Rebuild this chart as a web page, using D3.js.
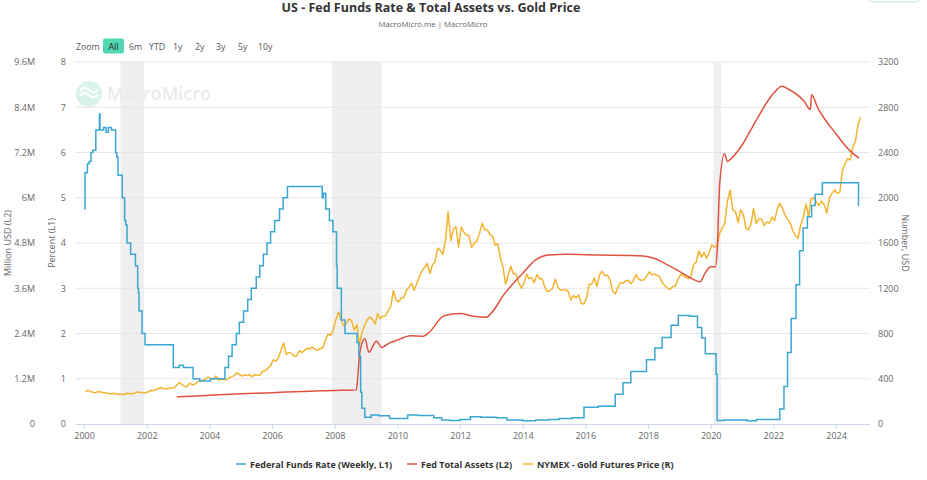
<!DOCTYPE html>
<html><head><meta charset="utf-8">
<script src="https://cdn.jsdelivr.net/npm/d3@7"></script>
<style>
body{margin:0;background:#fff;}
svg{display:block;font-family:"Open Sans",sans-serif;}
</style></head>
<body><svg id="c" width="927" height="480"></svg>
<script>
// ---------------- DATA ----------------
const title = "US - Fed Funds Rate & Total Assets vs. Gold Price";
const subtitle = "MacroMicro.me | MacroMicro";
const zoomButtons = ["All","6m","YTD","1y","2y","3y","5y","10y"];
const seriesNames = ["Federal Funds Rate (Weekly, L1)","Fed Total Assets (L2)","NYMEX - Gold Futures Price (R)"];
const xTicks = [2000,2002,2004,2006,2008,2010,2012,2014,2016,2018,2020,2022,2024];
const leftTicks = [0,1,2,3,4,5,6,7,8];
const assetTicks = ["0","1.2M","2.4M","3.6M","4.8M","6M","7.2M","8.4M","9.6M"];
const goldTicks = [0,400,800,1200,1600,2000,2400,2800,3200];
const recessions = [["2001-03-01","2001-11-30"],["2007-12-01","2009-06-30"],["2020-02-01","2020-04-30"]];

// Federal funds rate (weekly) – change points [date, %]
const fedFunds = [
["2000-01-05",4.75],["2000-01-12",5.55],["2000-02-09",5.75],["2000-03-01",5.8],["2000-03-22",6.0],["2000-04-12",6.05],["2000-05-17",6.5],
["2000-06-28",6.85],["2000-07-05",6.5],["2000-08-16",6.55],["2000-09-13",6.45],["2000-10-11",6.55],["2000-11-15",6.5],
["2001-01-03",6.0],["2001-01-17",5.9],["2001-01-31",5.5],["2001-03-21",5.0],["2001-04-18",4.5],["2001-05-02",4.4],["2001-05-16",4.0],
["2001-06-27",3.75],["2001-08-22",3.5],["2001-09-17",3.0],["2001-09-26",2.9],["2001-10-03",2.5],["2001-11-07",2.0],["2001-12-12",1.75],
["2002-11-06",1.25],["2003-01-15",1.3],["2003-03-05",1.25],["2003-06-25",1.0],["2003-09-10",0.95],["2004-01-14",1.0],
["2004-06-30",1.25],["2004-08-11",1.5],["2004-09-22",1.75],["2004-11-10",2.0],["2004-12-15",2.25],["2005-02-02",2.5],["2005-03-23",2.75],
["2005-05-04",3.0],["2005-06-30",3.25],["2005-08-10",3.5],["2005-09-21",3.75],["2005-11-02",4.0],["2005-12-14",4.25],["2006-01-31",4.5],
["2006-03-28",4.75],["2006-05-10",5.0],["2006-06-29",5.25],["2007-08-08",5.0],["2007-08-22",5.1],["2007-09-18",4.75],["2007-10-31",4.5],
["2007-12-11",4.25],["2008-01-22",3.5],["2008-01-30",3.0],["2008-03-18",2.3],["2008-04-30",2.0],["2008-09-17",1.8],["2008-10-08",1.5],
["2008-10-29",0.7],["2008-11-12",0.35],["2008-12-17",0.15],["2009-03-01",0.2],["2009-06-01",0.18],["2009-10-01",0.12],
["2010-01-01",0.12],["2010-05-01",0.2],["2010-09-01",0.19],["2011-03-01",0.14],["2011-06-01",0.09],["2011-09-01",0.08],
["2012-01-01",0.1],["2012-05-01",0.16],["2012-09-01",0.15],["2013-03-01",0.14],["2013-07-01",0.09],["2014-01-01",0.07],
["2014-06-01",0.09],["2014-11-01",0.1],["2015-03-01",0.12],["2015-08-01",0.14],["2015-12-16",0.37],["2016-06-01",0.39],
["2016-12-14",0.66],["2017-03-15",0.91],["2017-06-14",1.16],["2017-12-13",1.42],["2018-03-21",1.68],["2018-06-13",1.91],
["2018-09-26",2.18],["2018-12-19",2.4],["2019-05-01",2.38],["2019-07-31",2.13],["2019-09-18",1.9],["2019-10-30",1.55],
["2020-03-04",1.1],["2020-03-16",0.08],["2020-06-01",0.09],["2021-03-01",0.07],["2021-06-17",0.1],["2022-03-16",0.33],
["2022-05-04",0.83],["2022-06-15",1.58],["2022-07-27",2.33],["2022-09-21",3.08],["2022-11-02",3.83],["2022-12-14",4.33],
["2023-02-01",4.58],["2023-03-22",4.83],["2023-05-03",5.08],["2023-07-26",5.33],["2024-09-19",4.83],["2024-09-25",4.83]
];

// Fed total assets [date, million USD]
const fedAssets = [
["2002-12-18",720000],["2003-06-01",735000],["2004-01-01",760000],["2005-01-01",800000],["2006-01-01",830000],["2007-01-01",865000],
["2007-08-01",880000],["2008-01-01",890000],["2008-06-01",895000],["2008-09-10",905000],["2008-09-24",1200000],["2008-10-15",1800000],
["2008-11-05",2070000],["2008-12-17",2260000],["2009-02-04",1900000],["2009-03-18",2050000],["2009-05-01",2200000],["2009-07-01",2030000],
["2009-10-01",2150000],["2010-01-06",2230000],["2010-06-01",2340000],["2010-11-01",2330000],["2011-01-01",2420000],["2011-06-29",2870000],
["2012-01-01",2930000],["2012-06-01",2860000],["2012-11-01",2830000],["2013-01-02",2950000],["2013-06-01",3450000],["2014-01-01",4000000],
["2014-06-01",4350000],["2014-10-29",4480000],["2015-06-01",4500000],["2016-06-01",4480000],["2017-06-01",4470000],["2017-10-01",4460000],
["2018-03-01",4400000],["2018-09-01",4200000],["2019-01-01",4050000],["2019-06-01",3850000],["2019-09-01",3770000],["2019-10-15",3950000],
["2020-01-01",4170000],["2020-02-26",4170000],["2020-03-18",4670000],["2020-04-15",6370000],["2020-06-10",7170000],["2020-07-15",6960000],
["2020-09-01",7050000],["2021-01-01",7400000],["2021-06-01",8000000],["2021-12-29",8760000],["2022-04-13",8960000],["2022-06-01",8910000],
["2022-12-28",8550000],["2023-03-08",8340000],["2023-03-22",8730000],["2023-06-01",8390000],["2023-12-27",7710000],["2024-06-01",7270000],
["2024-09-25",7050000]
];

// NYMEX gold futures, monthly from Jan 2000 (USD)
const goldStart = "2000-01-15";
const gold = [
284,300,286,280,275,288,282,277,274,270,266,272,
265,262,263,261,272,270,268,273,283,280,275,277,
282,296,295,302,314,321,314,310,319,317,319,342,
367,348,335,328,361,347,351,372,384,385,398,415,
400,397,424,390,394,393,391,408,416,428,453,438,
423,435,428,435,418,437,429,433,469,470,495,518,
568,556,583,654,716,614,633,624,599,604,646,632,
651,670,663,681,660,651,668,674,743,795,784,834,
925,990,920,866,886,930,915,830,880,700,815,870,
925,945,925,885,975,930,955,955,1000,1040,1180,1095,
1080,1115,1115,1180,1210,1245,1180,1245,1305,1355,1385,1420,
1330,1410,1430,1555,1535,1500,1625,1877,1620,1720,1745,1565,
1740,1695,1670,1665,1560,1600,1615,1685,1775,1720,1715,1675,
1660,1580,1595,1470,1390,1235,1315,1395,1325,1325,1250,1200,
1245,1325,1285,1295,1250,1320,1285,1285,1210,1170,1180,1200,
1280,1210,1185,1185,1190,1170,1095,1135,1115,1140,1065,1060,
1115,1235,1235,1290,1215,1320,1350,1310,1315,1275,1175,1150,
1210,1250,1245,1265,1270,1240,1270,1320,1280,1270,1275,1305,
1345,1320,1325,1315,1300,1250,1225,1200,1190,1215,1220,1280,
1320,1315,1295,1285,1305,1410,1430,1530,1475,1515,1465,1520,
1585,1565,1575,1690,1730,1780,1975,2068,1890,1880,1780,1895,
1850,1730,1715,1770,1905,1770,1815,1815,1755,1785,1775,1830,
1795,1900,1950,1910,1850,1810,1780,1710,1670,1640,1760,1825,
1945,1830,1985,2000,1965,1930,1970,1940,1865,1995,2040,2070,
2040,2050,2240,2300,2345,2335,2445,2505,2650,2716
];

// ---------------- CHART ----------------
const svg = d3.select("#c");
const parse = d3.timeParse("%Y-%m-%d");
const L = 76, R = 870, T = 62, B = 424;
const x = d3.scaleTime().domain([parse("1999-09-29"), parse("2025-01-31")]).range([L, R]);
const yL = d3.scaleLinear().domain([0, 8]).range([B, T]);
const yA = d3.scaleLinear().domain([0, 9600000]).range([B, T]);
const yG = d3.scaleLinear().domain([0, 3200]).range([B, T]);
const col = {blue:"#3aa6d4", red:"#e2513f", gold:"#f3b32f"};
const axisText = "#666", tf = 9;

// recession bands
svg.append("g").selectAll("rect").data(recessions).join("rect")
  .attr("x", d => x(parse(d[0]))).attr("y", T)
  .attr("width", d => x(parse(d[1])) - x(parse(d[0]))).attr("height", B - T)
  .attr("fill", "#efefef");

// grid
svg.append("g").selectAll("line").data(leftTicks.slice(1)).join("line")
  .attr("x1", L).attr("x2", R).attr("y1", d => yL(d)).attr("y2", d => yL(d))
  .attr("stroke", "#e6e6e6").attr("stroke-width", 1);

// watermark
const wm = svg.append("g");
wm.append("circle").attr("cx", 89).attr("cy", 94).attr("r", 13).attr("fill", "#d9f3ec");
wm.append("path").attr("d", "M80,96 q4,-6 9,-1 q5,5 9,-1").attr("fill","none").attr("stroke","#fff").attr("stroke-width",2.2);
wm.append("path").attr("d", "M80,91 q4,-6 9,-1 q5,5 9,-1").attr("fill","none").attr("stroke","#fff").attr("stroke-width",2.2);
wm.append("text").attr("x", 107).attr("y", 100).text("MacroMicro")
  .attr("font-size", 18).attr("font-weight", 600).attr("fill", "#ebebeb");

// left axis: Million USD
svg.append("g").attr("transform", `translate(35,0)`)
  .call(d3.axisLeft(yA).tickValues(d3.range(0, 9600001, 1200000)).tickFormat((d,i) => assetTicks[i]).tickSize(0).tickPadding(0))
  .call(g => g.select(".domain").remove())
  .call(g => g.selectAll("text").attr("fill", axisText).attr("font-size", tf).attr("font-family","Open Sans"));
// left axis: percent
svg.append("g").attr("transform", `translate(66,0)`)
  .call(d3.axisLeft(yL).tickValues(leftTicks).tickFormat(d3.format("d")).tickSize(0).tickPadding(0))
  .call(g => g.select(".domain").remove())
  .call(g => g.selectAll("text").attr("fill", axisText).attr("font-size", tf).attr("font-family","Open Sans"));
// right axis: gold
svg.append("g").attr("transform", `translate(878,0)`)
  .call(d3.axisRight(yG).tickValues(goldTicks).tickFormat(d3.format("d")).tickSize(0).tickPadding(0))
  .call(g => g.select(".domain").remove())
  .call(g => g.selectAll("text").attr("fill", axisText).attr("font-size", tf).attr("font-family","Open Sans"));
// x axis
svg.append("g").attr("transform", `translate(0,${B})`)
  .call(d3.axisBottom(x).tickValues(xTicks.map(y => new Date(y,0,1))).tickFormat(d3.timeFormat("%Y")).tickSize(5).tickPadding(4))
  .call(g => g.select(".domain").attr("stroke", "#ccd6eb").attr("d", `M${L},0.5H${R}`))
  .call(g => g.selectAll(".tick line").attr("stroke", "#ccd6eb"))
  .call(g => g.selectAll("text").attr("fill", axisText).attr("font-size", tf).attr("font-family","Open Sans"));

// axis titles
const at = (txt, xx, yy, rot) => svg.append("text").attr("transform", `translate(${xx},${yy}) rotate(${rot})`)
  .attr("text-anchor", "middle").attr("font-size", 9).attr("fill", axisText).text(txt);
at("Million USD (L2)", 11, 243, -90);
at("Percent (L1)", 55, 243, -90);
at("Number, USD", 902, 243, 90);

// lines
svg.append("defs").append("clipPath").attr("id","pc").append("rect").attr("x",L).attr("y",T-5).attr("width",R-L).attr("height",B-T+10);
const plot = svg.append("g").attr("clip-path","url(#pc)");
const goldData = gold.map((v, i) => { const d = parse(goldStart); return [new Date(d.getFullYear(), d.getMonth() + i, 15), v]; });
plot.append("path").datum(goldData)
  .attr("d", d3.line().x(d => x(d[0])).y(d => yG(d[1])))
  .attr("fill", "none").attr("stroke", col.gold).attr("stroke-width", 1.5).attr("stroke-linejoin","round");
plot.append("path").datum(fedAssets)
  .attr("d", d3.line().curve(d3.curveMonotoneX).x(d => x(parse(d[0]))).y(d => yA(d[1])))
  .attr("fill", "none").attr("stroke", col.red).attr("stroke-width", 1.5);
plot.append("path").datum(fedFunds)
  .attr("d", d3.line().curve(d3.curveStepAfter).x(d => x(parse(d[0]))).y(d => yL(d[1])))
  .attr("fill", "none").attr("stroke", col.blue).attr("stroke-width", 1.5);

// title
svg.append("text").attr("x", 431).attr("y", 12).attr("text-anchor","middle")
  .attr("font-size", 12.5).attr("font-weight", 700).attr("fill", "#333").text(title);
svg.append("text").attr("x", 433).attr("y", 27).attr("text-anchor","middle")
  .attr("font-size", 7.8).attr("fill", "#666").text(subtitle);

// top-right button remnant
svg.append("rect").attr("x", 869).attr("y", -10).attr("width", 50).attr("height", 12).attr("rx", 3)
  .attr("fill", "#fff").attr("stroke", "#bfe9df");

// zoom buttons
svg.append("text").attr("x", 76).attr("y", 50).attr("font-size", 8.8).attr("fill", "#555").text("Zoom");
const bx = [103,129,149,173,195,216,238,258];
zoomButtons.forEach((b, i) => {
  if (i === 0) svg.append("rect").attr("x", bx[i]).attr("y", 38.5).attr("width", 21).attr("height", 15).attr("rx", 2).attr("fill", "#4fd8b3");
  svg.append("text").attr("x", i === 0 ? bx[i] + 10.5 : bx[i]).attr("y", 50)
    .attr("text-anchor", i === 0 ? "middle" : "start")
    .attr("font-size", 8.8).attr("fill", i === 0 ? "#222" : "#555").text(b);
});

// legend
const legX = [236, 407, 523];
const legCol = [col.blue, col.red, col.gold];
seriesNames.forEach((n, i) => {
  svg.append("line").attr("x1", legX[i]).attr("x2", legX[i] + 10).attr("y1", 464).attr("y2", 464)
    .attr("stroke", legCol[i]).attr("stroke-width", 1.5);
  svg.append("text").attr("x", legX[i] + 14).attr("y", 467.5).attr("font-size", 9).attr("font-weight", 700)
    .attr("fill", "#333").text(n);
});
</script></body></html>
